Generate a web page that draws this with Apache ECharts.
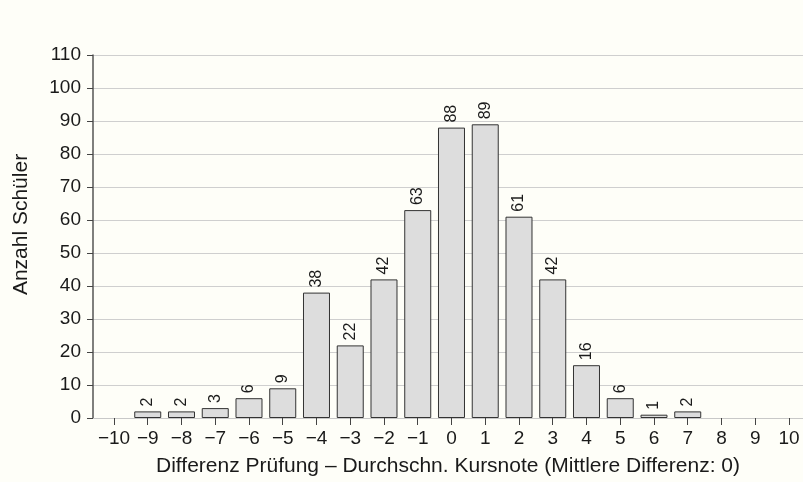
<!DOCTYPE html>
<html>
<head>
<meta charset="utf-8">
<script src="https://cdn.jsdelivr.net/npm/echarts@6/dist/echarts.min.js"></script>
<style>
  html, body { margin: 0; padding: 0; background: #fefef8; }
  #chart { width: 803px; height: 482px; }
</style>
</head>
<body>
<div id="chart"></div>
<script>
// differences (exam - course grade) and number of students
var differenzen = [-10, -9, -8, -7, -6, -5, -4, -3, -2, -1, 0, 1, 2, 3, 4, 5, 6, 7, 8, 9, 10];
var anzahl = [0, 2, 2, 3, 6, 9, 38, 22, 42, 63, 88, 89, 61, 42, 16, 6, 1, 2, 0, 0, 0];
var xTicks = [-10, -9, -8, -7, -6, -5, -4, -3, -2, -1, 0, 1, 2, 3, 4, 5, 6, 7, 8, 9, 10];
var yTicks = [0, 10, 20, 30, 40, 50, 60, 70, 80, 90, 100, 110];

var fontFam = "'Liberation Sans', Arial, sans-serif";

function minus(v) {
  return String(v).replace("-", "\u2212");
}

var chart = echarts.init(document.getElementById("chart"));

var barData = [];
for (var i = 0; i < differenzen.length; i++) {
  if (anzahl[i] > 0) {
    barData.push([differenzen[i], anzahl[i]]);
  }
}

chart.setOption({
  backgroundColor: "#fefef8",
  animation: false,
  textStyle: { fontFamily: fontFam },
  grid: {
    left: 93,
    right: 0,
    top: 55,
    bottom: 63,
    containLabel: false
  },
  xAxis: {
    type: "value",
    min: -10.622,
    max: 10.415,
    interval: 1,
    name: "Differenz Prüfung \u2013 Durchschn. Kursnote (Mittlere Differenz: 0)",
    nameLocation: "middle",
    nameGap: 38,
    nameTextStyle: { fontSize: 21, color: "#1a1a1a", fontFamily: fontFam },
    axisLine: { show: true, onZero: false, lineStyle: { color: "#c8c8c8", width: 1 } },
    axisTick: {
      show: true,
      length: 7,
      lineStyle: { color: "#444" },
      customValues: xTicks
    },
    axisLabel: {
      fontSize: 19,
      color: "#1a1a1a",
      margin: 11,
      customValues: xTicks,
      formatter: function (v) { return minus(v); }
    },
    splitLine: { show: false }
  },
  yAxis: {
    type: "value",
    min: 0,
    max: 110,
    interval: 10,
    name: "Anzahl Schüler",
    nameLocation: "middle",
    nameGap: 61,
    nameRotate: 90,
    nameTextStyle: {
      fontSize: 21,
      color: "#1a1a1a",
      fontFamily: fontFam,
      padding: [0, 0, 0, 24]
    },
    axisLine: { show: true, onZero: false, lineStyle: { color: "#555", width: 1.5 } },
    axisTick: { show: true, length: 6, lineStyle: { color: "#444" } },
    axisLabel: {
      fontSize: 19,
      color: "#1a1a1a",
      margin: 12,
      formatter: function (v) { return yTicks.indexOf(v) >= 0 ? String(v) : ""; }
    },
    splitLine: { show: true, lineStyle: { color: "#cfcfcf", width: 1 } }
  },
  series: [
    {
      type: "bar",
      data: barData,
      barWidth: 27,
      itemStyle: {
        color: "#dddddd",
        borderColor: "#333333",
        borderWidth: 1
      },
      label: {
        show: true,
        position: "top",
        rotate: 90,
        align: "left",
        verticalAlign: "middle",
        distance: 5,
        fontSize: 16,
        color: "#1a1a1a",
        fontFamily: fontFam
      }
    }
  ]
});
</script>
</body>
</html>
